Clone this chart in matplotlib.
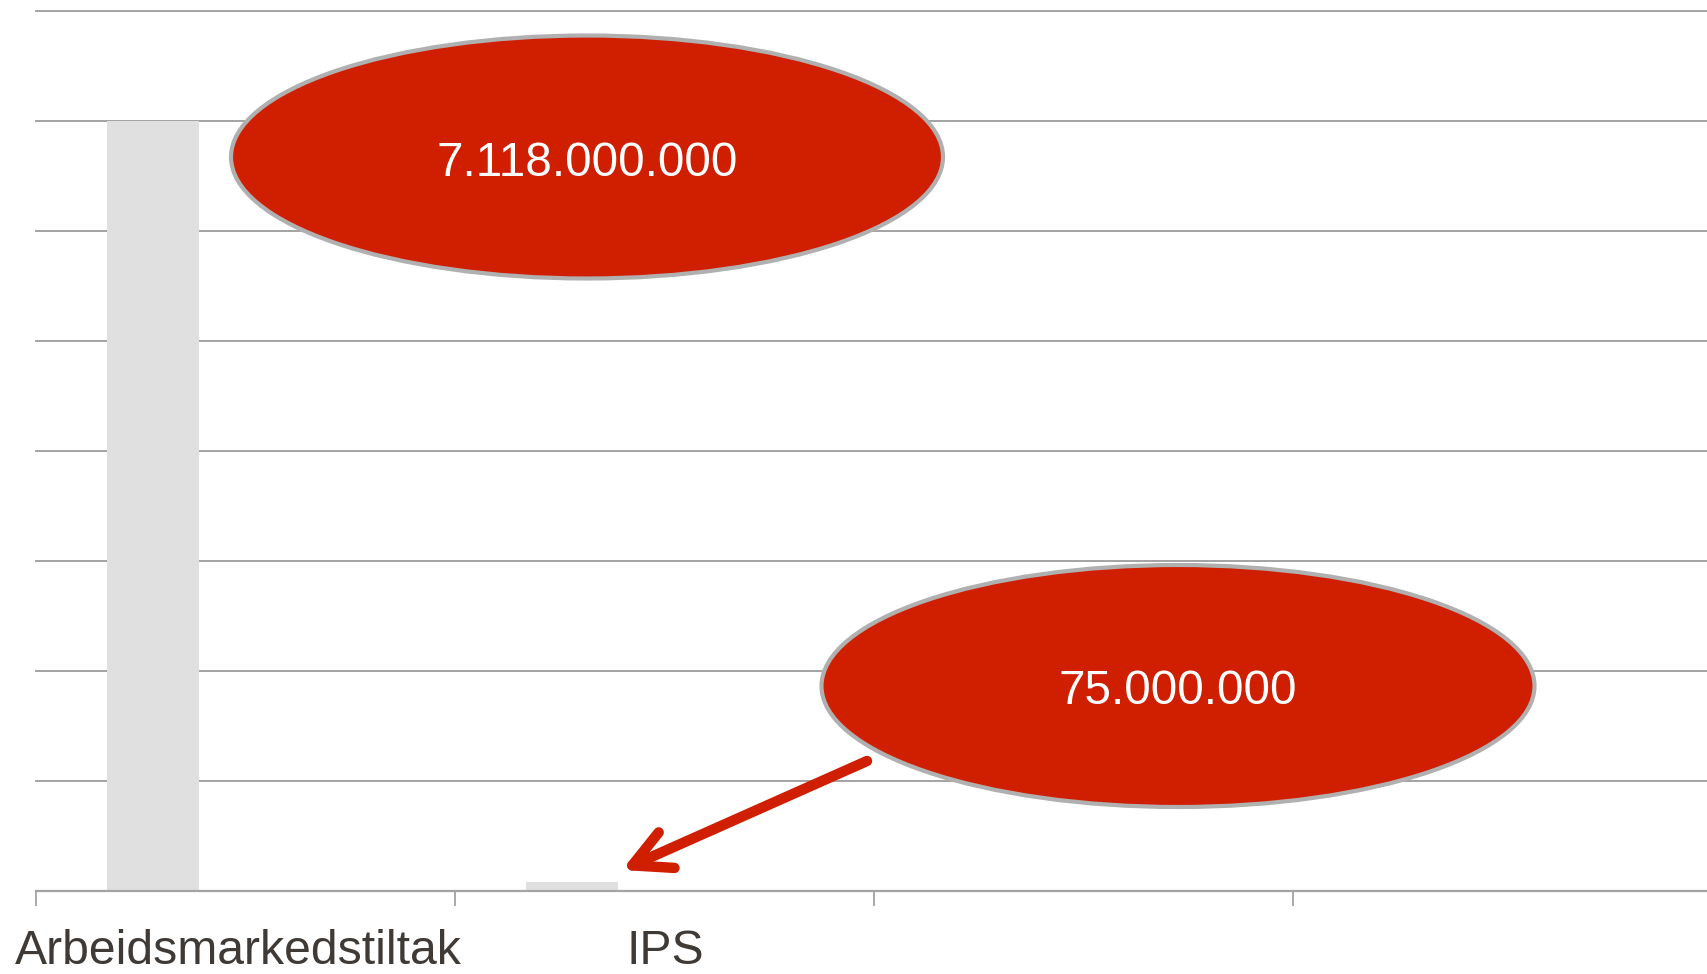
import matplotlib
matplotlib.use("Agg")
import matplotlib.pyplot as plt
from matplotlib.patches import Ellipse
from matplotlib.transforms import ScaledTranslation

# ---- data ----
categories = ["Arbeidsmarkedstiltak", "IPS", "", ""]
values = [7118000000, 75000000, 0, 0]
callout_labels = ["7.118.000.000", "75.000.000"]

# ---- style ----
W, H, DPI = 1708, 974, 100
bar_color = "#e0e0e0"
grid_color = "#a3a3a3"
text_color = "#3f3a35"
red = "#d01e00"
y_step = values[0] / 7.0
n_grid = 8
bar_offset = 0.2776
bar_width = 0.22

plt.rcParams["font.family"] = ["Liberation Sans", "DejaVu Sans"]

fig = plt.figure(figsize=(W / DPI, H / DPI), dpi=DPI)
ax = fig.add_axes([36.5 / W, 83.5 / H, 1676 / W, 880 / H])

xs = [i + bar_offset for i in range(len(categories))]
ax.bar(xs, values, width=bar_width, color=bar_color, zorder=2)

ax.set_xlim(0, len(categories))
ax.set_ylim(0, n_grid * y_step)
ax.set_yticks([k * y_step for k in range(n_grid + 1)])
ax.yaxis.grid(True, color=grid_color, linewidth=1.4, zorder=0)
ax.set_axisbelow(True)
for gl in ax.get_ygridlines():
    gl.set_clip_on(False)
ax.tick_params(axis="y", length=0, labelleft=False)

ax.set_xticks(range(len(categories) + 1))
ax.set_xticklabels([])
ax.tick_params(axis="x", which="major", direction="out", length=11, width=1.3, color=grid_color)
ax.set_xticks([i + 0.5 for i in range(len(categories))], minor=True)
labels = ax.set_xticklabels(categories, minor=True, fontsize=34.7, color=text_color)
ax.tick_params(axis="x", which="minor", length=0, pad=27.5)
labels[0].set_transform(labels[0].get_transform() + ScaledTranslation(-7.5 / DPI, 0, fig.dpi_scale_trans))

for s in ["left", "right", "top"]:
    ax.spines[s].set_visible(False)
ax.spines["bottom"].set_color(grid_color)
ax.spines["bottom"].set_linewidth(1.6)

# ---- overlay for callouts (figure pixel coords) ----
ov = fig.add_axes([0, 0, 1, 1])
ov.set_xlim(0, W)
ov.set_ylim(H, 0)
ov.axis("off")

ellipses = [((587, 157), 712, 243), ((1178, 686), 713, 242)]
text_dy = [7, 5]
for (c, w, h), lab, dy in zip(ellipses, callout_labels, text_dy):
    ov.add_patch(Ellipse(c, w, h, facecolor=red, edgecolor="#b0b0b0", linewidth=3.0, zorder=3))
    ov.text(c[0], c[1] + dy, lab, ha="center", va="center", color="white", fontsize=34.3, zorder=4)

ov.annotate("", xy=(622, 870), xytext=(867, 761),
            arrowprops=dict(arrowstyle="->,head_length=27,head_width=14",
                            mutation_scale=1,
                            color=red, linewidth=7.5, capstyle="round",
                            joinstyle="round", shrinkA=0, shrinkB=0),
            zorder=5)

fig.savefig("out.png", dpi=DPI)
